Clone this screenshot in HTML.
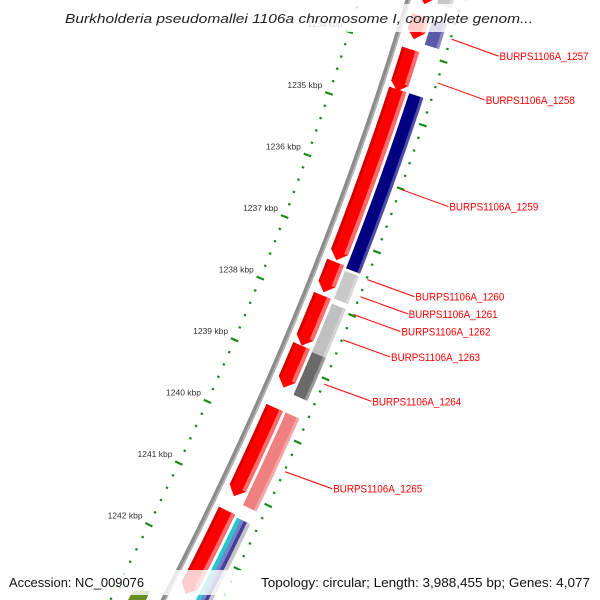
<!DOCTYPE html>
<html><head><meta charset="utf-8"><style>
html,body{margin:0;padding:0;background:#fff;width:600px;height:600px;overflow:hidden}
svg{display:block;overflow:hidden}
</style></head><body>
<svg id="map" width="600" height="600" viewBox="0 0 600 600" xmlns="http://www.w3.org/2000/svg" font-family="'Liberation Sans', 'DejaVu Sans', sans-serif">
<defs><clipPath id="frame"><rect x="0" y="0" width="600" height="600"/></clipPath></defs>
<g id="content" clip-path="url(#frame)"></g>
<rect x="0" y="4" width="600" height="28" fill="#fff" fill-opacity="0.8"/>
<text x="65" y="23" font-size="13" font-style="italic" fill="#222" textLength="468" lengthAdjust="spacingAndGlyphs">Burkholderia pseudomallei 1106a chromosome I, complete genom...</text>
<rect x="0" y="570" width="600" height="25" fill="#fff" fill-opacity="0.8"/>
<text x="9" y="587" font-size="13" fill="#111" textLength="135" lengthAdjust="spacingAndGlyphs">Accession: NC_009076</text>
<text x="261" y="587" font-size="13" fill="#111" textLength="329" lengthAdjust="spacingAndGlyphs">Topology: circular; Length: 3,988,455 bp; Genes: 4,077</text>
</svg>
<script>
// ---- data (kbp) ----
const fwdStarts = [1232.4, 1233.44, 1233.97, 1234.61, 1237.36, 1237.89, 1238.69, 1239.68, 1241.32];
const fwdEnds   = [1233.25, 1233.81, 1234.64, 1237.33, 1237.84, 1238.69, 1239.36, 1241.09, 1242.65];
const trk2Starts = [1232.9, 1233.44, 1234.61, 1237.43, 1237.95, 1238.72, 1239.68];
const trk2Ends   = [1233.20, 1233.84, 1237.39, 1237.87, 1238.72, 1239.40, 1241.15];
const trk2Colors = ["#c8c8c8", "#5a5aa8", "#000080", "#c8c8c8", "#c0c0c0", "#6a6a6a", "#f08080"];
const stripeStart = 1241.35, stripeEnd = 1242.8;
const stripeColors = ["#20c8d0", "#6a88c8", "#4a3c9c", "#c4c4c4"];
const tickKbp = [1233, 1234, 1235, 1236, 1237, 1238, 1239, 1240, 1241, 1242, 1243];
const labelNames = ["BURPS1106A_1257","BURPS1106A_1258","BURPS1106A_1259","BURPS1106A_1260","BURPS1106A_1261","BURPS1106A_1262","BURPS1106A_1263","BURPS1106A_1264","BURPS1106A_1265"];
const labelKbp = [1233.64, 1234.33, 1236.01, 1237.43, 1237.70, 1237.98, 1238.38, 1239.08, 1240.46];

// ---- geometry ----
const NS = "http://www.w3.org/2000/svg";
const root = document.getElementById("content");
function bb(s){ return 408 - 0.298*s - 0.000183*s*s; }
function sOf(k){ return 108.5 + (k - 1235)*62.45; }
function pt(s, off){
  const m = -0.298 - 2*0.000183*s;
  const n = Math.sqrt(1 + m*m);
  return [bb(s) + off/n, s + off*(-m)/n];
}
function mk(tag, attrs){ const e = document.createElementNS(NS, tag); for (const k in attrs) e.setAttribute(k, attrs[k]); return e; }
function band(s1, s2, o1, o2){
  const p = [];
  for (let s = s1; s <= s2; s += 4) p.push(pt(s, o1));
  p.push(pt(s2, o1));
  p.push(pt(s2, o2));
  for (let s = s2; s >= s1; s -= 4) p.push(pt(s, o2));
  p.push(pt(s1, o2));
  return p.map(q => q[0].toFixed(1)+","+q[1].toFixed(1)).join(" ");
}
function arrow(s1, s2, o1, o2){
  const ah = Math.min(8, (s2 - s1)*0.5);
  const p = [];
  for (let s = s1; s <= s2 - ah; s += 4) p.push(pt(s, o1));
  p.push(pt(s2 - ah, o1));
  p.push(pt(s2, (o1+o2)/2));
  p.push(pt(s2 - ah, o2));
  for (let s = s2 - ah; s >= s1; s -= 4) p.push(pt(s, o2));
  p.push(pt(s1, o2));
  return p.map(q => q[0].toFixed(1)+","+q[1].toFixed(1)).join(" ");
}

// backbone
(function(){
  let d = "";
  for (let s = -30; s <= 620; s += 5){ const q = pt(s, 0); d += (s === -30 ? "M" : "L") + q[0].toFixed(1) + "," + q[1].toFixed(1); }
  const b = mk("path", {d: d, fill: "none", stroke: "#8c8c8c", "stroke-width": 5});
  
  
  root.appendChild(b);
  let d2 = "";
  for (let s = -30; s <= 620; s += 5){ const q = pt(s, 1.5); d2 += (s === -30 ? "M" : "L") + q[0].toFixed(1) + "," + q[1].toFixed(1); }
  const b2 = mk("path", {d: d2, fill: "none", stroke: "#b4b4b4", "stroke-width": 1.5});
  
  
  root.appendChild(b2);
})();

// rulers
function ruler(off, side, name){
  const g = mk("g", {});
  
  
  for (let i = 0; i < tickKbp.length; i++){
    for (let j = 0; j < 5; j++){
      const k = tickKbp[i] + j*0.2;
      const s = sOf(k);
      if (j === 0){
        const a = pt(s, off - 4), b = pt(s, off + 4);
        const t = mk("line", {x1: a[0], y1: a[1], x2: b[0], y2: b[1], stroke: "#1a8a1a", "stroke-width": 2.2});
        
        
        g.appendChild(t);
        if (side === "left" && tickKbp[i] < 1243){
          const lp = pt(s, off - 7);
          const lb = mk("text", {x: lp[0], y: lp[1] - 3, "font-size": 8.5, fill: "#333", "text-anchor": "end"});
          lb.textContent = tickKbp[i] + " kbp";
          
          
          g.appendChild(lb);
        }
      } else {
        const a = pt(s, off - 1.2), b = pt(s, off + 1.2);
        const t = mk("line", {x1: a[0], y1: a[1], x2: b[0], y2: b[1], stroke: "#1a8a1a", "stroke-width": 2.2});
        
        
        g.appendChild(t);
      }
    }
  }
  root.appendChild(g);
}
ruler(-47, "left", "left-ruler");
ruler(52, "right", "right-ruler");

// forward genes (red)
for (let i = 0; i < fwdStarts.length; i++){
  const s1 = sOf(fwdStarts[i]), s2 = sOf(fwdEnds[i]);
  const g = mk("g", {});
  
  
  g.appendChild(mk("polygon", {points: arrow(s1, s2, 8, 26), fill: "#ff0000"}));
  g.appendChild(mk("polygon", {points: band(s1, Math.max(s1, s2 - 8), 8, 11), fill: "#d40000"}));
  g.appendChild(mk("polygon", {points: band(s1, Math.max(s1, s2 - 8), 22, 26), fill: "#ff6a6a"}));
  root.appendChild(g);
}
// second track
for (let i = 0; i < trk2Starts.length; i++){
  const s1 = sOf(trk2Starts[i]), s2 = sOf(trk2Ends[i]);
  const g = mk("g", {});
  
  
  g.appendChild(mk("polygon", {points: band(s1, s2, 29, 44), fill: trk2Colors[i]}));
  g.appendChild(mk("polygon", {points: band(s1, s2, 41, 44), fill: "#ffffff", "fill-opacity": 0.3}));
  root.appendChild(g);
}
// stripes
for (let i = 0; i < stripeColors.length; i++){
  const w = 15/stripeColors.length;
  const p = mk("polygon", {points: band(sOf(stripeStart), sOf(stripeEnd), 29 + i*w, 29 + (i+1)*w), fill: stripeColors[i]});
  
  
  root.appendChild(p);
}
// olive feature bottom-left
(function(){
  const p = mk("polygon", {points: "128,600 133,591 150,591 146,600", fill: "#6b8e23"});
  
  
  root.appendChild(p);
})();

// labels
for (let i = 0; i < labelNames.length; i++){
  const s = sOf(labelKbp[i]);
  const a = pt(s, 53);
  const bx = a[0] + 47, by = a[1] + 17;
  const l = mk("line", {x1: a[0], y1: a[1], x2: bx, y2: by, stroke: "#ff0000", "stroke-width": 1});
  
  
  root.appendChild(l);
  const t = mk("text", {x: bx + 1, y: by + 4, "font-size": 11, fill: "#ff0000", textLength: 89, lengthAdjust: "spacingAndGlyphs"});
  t.textContent = labelNames[i];
  
  
  root.appendChild(t);
}
</script>
</body></html>
